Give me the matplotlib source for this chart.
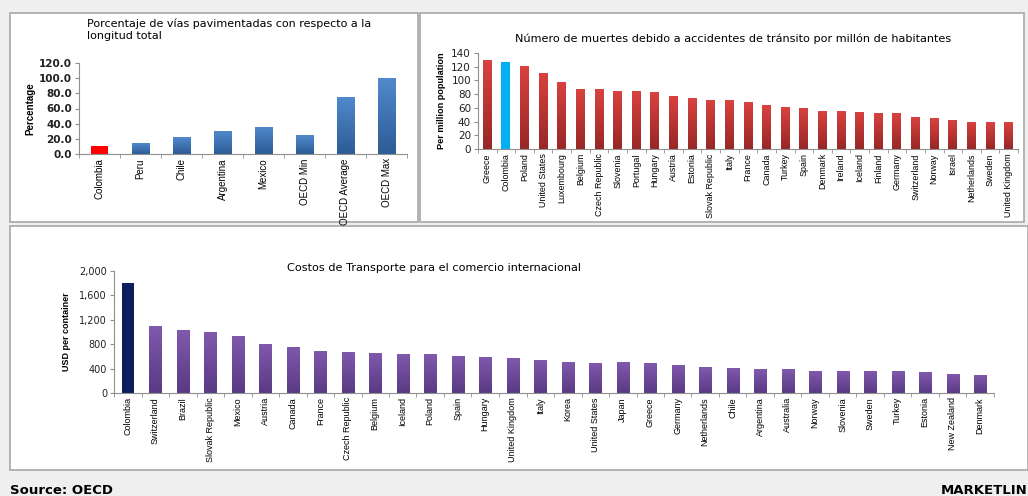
import numpy as np
import matplotlib.pyplot as plt
from matplotlib.patches import Rectangle
from matplotlib.colors import LinearSegmentedColormap

# Paved roads (% of total length)
paved_cats = ['Colombia', 'Peru', 'Chile', 'Argentina', 'Mexico', 'OECD Min',
              'OECD Average', 'OECD Max']
paved_vals = [10.5, 14.0, 22.0, 30.0, 36.0, 24.5, 75.0, 100.0]

# Road deaths per million population
death_cats = ['Greece', 'Colombia', 'Poland', 'United States', 'Luxembourg',
              'Belgium', 'Czech Republic', 'Slovenia', 'Portugal', 'Hungary',
              'Austria', 'Estonia', 'Slovak Republic', 'Italy', 'France',
              'Canada', 'Turkey', 'Spain', 'Denmark', 'Ireland', 'Iceland',
              'Finland', 'Germany', 'Switzerland', 'Norway', 'Israel',
              'Netherlands', 'Sweden', 'United Kingdom']
death_vals = [130, 127, 121, 111, 98, 87, 87, 85, 84, 83, 77, 74, 72, 71, 69,
              64, 61, 60, 56, 55, 54, 53, 52, 46, 45, 43, 40, 39, 39]

# Transport cost (USD per container)
cost_cats = ['Colombia', 'Switzerland', 'Brazil', 'Slovak Republic', 'Mexico',
             'Austria', 'Canada', 'France', 'Czech Republic', 'Belgium',
             'Iceland', 'Poland', 'Spain', 'Hungary', 'United Kingdom', 'Italy',
             'Korea', 'United States', 'Japan', 'Greece', 'Germany',
             'Netherlands', 'Chile', 'Argentina', 'Australia', 'Norway',
             'Slovenia', 'Sweden', 'Turkey', 'Estonia', 'New Zealand', 'Denmark']
cost_vals = [1810, 1105, 1030, 995, 930, 805, 760, 690, 680, 660, 635, 635, 612,
             596, 580, 536, 503, 497, 503, 486, 464, 426, 410, 388, 388, 355,
             355, 355, 355, 344, 311, 290]

plt.rcParams['font.family'] = ['Liberation Sans Narrow', 'Liberation Sans', 'DejaVu Sans']

fig = plt.figure(figsize=(10.28, 4.96), dpi=100, facecolor='#efefef')

# panel frames
for (x0, y0, x1, y1) in [(10, 13, 418, 222), (420, 13, 1024, 222), (10, 226, 1028, 470)]:
    fig.patches.append(Rectangle((x0 / 1028, 1 - y1 / 496), (x1 - x0) / 1028,
                                 (y1 - y0) / 496, transform=fig.transFigure,
                                 facecolor='white', edgecolor='#a8a8a8', lw=1.2, zorder=-5))


def grad_bars(ax, vals, top, bottom, hi_idx, hi_col, width=0.45):
    # vertical gradient: dark at the base, lighter at the top
    cmap = LinearSegmentedColormap.from_list('g', [bottom, top])
    grad = np.linspace(0, 1, 64).reshape(-1, 1)
    bars = ax.bar(np.arange(len(vals)), vals, width=width, color='none', edgecolor='none')
    for i, b in enumerate(bars):
        if i == hi_idx:
            b.set_facecolor(hi_col)
            continue
        im = ax.imshow(grad, cmap=cmap, origin='lower', aspect='auto',
                       extent=[b.get_x(), b.get_x() + b.get_width(), 0, b.get_height()],
                       zorder=2)
        im.set_clip_path(b)


def style(ax, n, ymax, ticks, fmt, tsize=7.5, tweight='normal'):
    ax.set_facecolor('none')
    ax.set_xlim(-0.5, n - 0.5)
    ax.set_ylim(0, ymax)
    ax.set_yticks(ticks)
    ax.set_yticklabels([fmt(t) for t in ticks], fontsize=tsize, family='DejaVu Sans',
                       color='#202020', fontweight=tweight)
    ax.set_xticks(np.arange(n))
    ax.set_xticks(np.arange(n + 1) - 0.5, minor=True)
    ax.tick_params(axis='x', which='major', length=0, pad=3)
    ax.tick_params(axis='x', which='minor', length=3, color='#909090', direction='out')
    ax.tick_params(axis='y', length=3, color='#909090', pad=2)
    for s in ['top', 'right']:
        ax.spines[s].set_visible(False)
    for s in ['left', 'bottom']:
        ax.spines[s].set_color('#909090')
        ax.spines[s].set_linewidth(0.8)


# Chart 1
ax1 = fig.add_axes([79 / 1028, 1 - 154 / 496, 328 / 1028, 91 / 496])
grad_bars(ax1, paved_vals, '#5089cc', '#2d5c96', 0, '#ff0000', width=0.42)
style(ax1, len(paved_cats), 120, np.arange(0, 121, 20), lambda t: f'{t:.1f}',
      tsize=7.5, tweight='bold')
ax1.set_xticklabels(paved_cats, rotation=90, fontsize=7)
ax1.set_ylabel('Percentage', fontsize=7, fontweight='bold', labelpad=3)
fig.text(87 / 1028, 1 - 30 / 496, 'Porcentaje de vías pavimentadas con respecto a la\nlongitud total',
         fontsize=8, family='DejaVu Sans', va='center', ha='left', linespacing=1.25)

# Chart 2
ax2 = fig.add_axes([478 / 1028, 1 - 149 / 496, 540 / 1028, 96 / 496])
grad_bars(ax2, death_vals, '#d9423f', '#982727', 1, '#00b0f0', width=0.48)
style(ax2, len(death_cats), 140, np.arange(0, 141, 20), lambda t: f'{t:d}', tsize=7.5)
ax2.set_xticklabels(death_cats, rotation=90, fontsize=6.4)
ax2.set_ylabel('Per million population', fontsize=6.6, fontweight='bold', labelpad=4)
fig.text(733 / 1028, 1 - 39 / 496,
         'Número de muertes debido a accidentes de tránsito por millón de habitantes',
         fontsize=8.1, family='DejaVu Sans', ha='center', va='center')

# Chart 3
ax3 = fig.add_axes([114 / 1028, 1 - 393 / 496, 880 / 1028, 122 / 496])
grad_bars(ax3, cost_vals, '#8059ad', '#5a3a84', 0, '#0a1f5c', width=0.44)
style(ax3, len(cost_cats), 2000, np.arange(0, 2001, 400), lambda t: f'{t:,d}', tsize=7)
ax3.set_xticklabels(cost_cats, rotation=90, fontsize=6.5)
ax3.set_ylabel('USD per container', fontsize=6.5, fontweight='bold', labelpad=6)
fig.text(287 / 1028, 1 - 268 / 496, 'Costos de Transporte para el comercio internacional',
         fontsize=8.1, family='DejaVu Sans', ha='left', va='center')

# footer
fig.text(10 / 1028, 1 - 491 / 496, 'Source: OECD', fontsize=9.5, fontweight='heavy',
         family='DejaVu Sans', ha='left', va='center')
fig.text(1028 / 1028, 1 - 491 / 496, 'MARKETLIN', fontsize=9.5, fontweight='heavy',
         family='DejaVu Sans', ha='right', va='center')

fig.savefig('out.png', dpi=100, facecolor=fig.get_facecolor())
